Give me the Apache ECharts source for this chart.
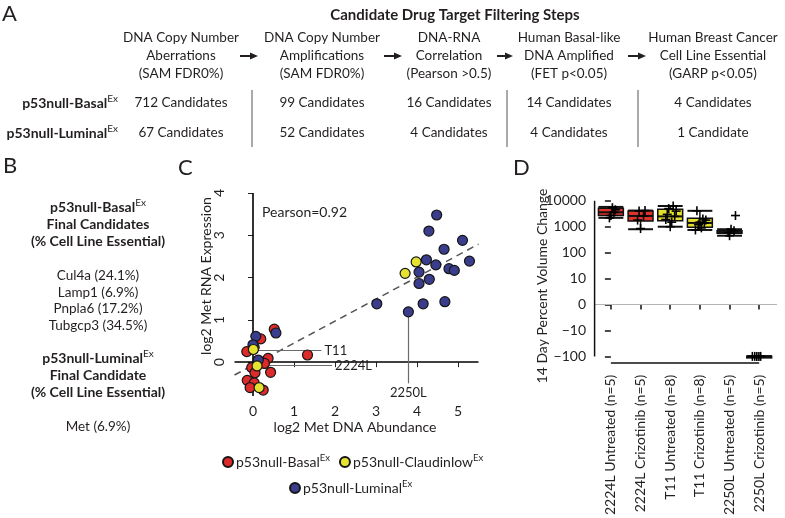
<!DOCTYPE html>
<html><head><meta charset="utf-8">
<script src="https://cdn.jsdelivr.net/npm/echarts@6/dist/echarts.min.js"></script>
<style>html,body{margin:0;padding:0;background:#fff}#c{width:785px;height:518px}</style>
</head><body><div id="c"></div>
<script>
// ---------- Panel A data ----------
const stepHeaders = [
  ["DNA Copy Number", "Aberrations", "(SAM FDR0%)"],
  ["DNA Copy Number", "Amplifications", "(SAM FDR0%)"],
  ["DNA-RNA", "Correlation", "(Pearson >0.5)"],
  ["Human Basal-like", "DNA Amplified", "(FET p<0.05)"],
  ["Human Breast Cancer", "Cell Line Essential", "(GARP p<0.05)"]
];
const basalCounts = ["712 Candidates", "99 Candidates", "16 Candidates", "14 Candidates", "4 Candidates"];
const luminalCounts = ["67 Candidates", "52 Candidates", "4 Candidates", "4 Candidates", "1 Candidate"];
// ---------- Panel B data ----------
const basalFinal = ["Cul4a (24.1%)", "Lamp1 (6.9%)", "Pnpla6 (17.2%)", "Tubgcp3 (34.5%)"];
const luminalFinal = ["Met (6.9%)"];
// ---------- Panel C data: [log2 DNA, log2 RNA] ----------
const basalPts = [[0.19,0.55],[0.52,0.78],[0.03,0.35],[-0.15,0.25],[0.37,0.09],[0.28,-0.03],[-0.03,-0.13],
  [0.43,-0.24],[0.05,-0.25],[-0.14,-0.43],[0.03,-0.49],[-0.07,-0.6],[0.25,-0.66],[1.33,0.17]];
const claudinPts = [[0.01,0.30],[0.10,-0.09],[0.15,-0.60],[3.98,2.37],[3.71,2.10]];
const luminalPts = [[0.07,0.61],[0.56,0.69],[0.00,0.41],[0.13,0.05],[4.48,3.48],[4.29,3.10],[4.23,2.42],
  [4.46,2.30],[4.05,2.13],[4.30,1.96],[4.05,1.86],[3.02,1.38],[4.15,1.38],[3.79,1.19],[5.11,2.88],
  [4.66,2.67],[5.28,2.39],[4.78,2.21],[4.91,2.17],[4.68,1.43]];
const cXTicks = [0,1,2,3,4,5];
const cYTicks = [0,1,2,3,4];
const regSlope = 0.52, regIntercept = -0.07;
const pearsonText = "Pearson=0.92";
// ---------- Panel D data ----------
const dGroups = ["2224L Untreated (n=5)", "2224L Crizotinib (n=5)", "T11 Untreated (n=8)",
  "T11 Crizotinib (n=8)", "2250L Untreated (n=5)", "2250L Crizotinib (n=5)"];
const dMin = [2200, 800, 1000, 750, 450, -100];
const dQ1  = [2700, 1650, 1700, 950, 560, -100];
const dMed = [3600, 2600, 2500, 1400, 620, -100];
const dQ3  = [5200, 4000, 4700, 2100, 700, -100];
const dMax = [5800, 4200, 6300, 4100, 800, -100];
const dPoints = [ // [group position, % change]
  [0.05,5400],[0.15,4500],[0.1,3600],[0.0,2700],[-0.05,2200],
  [0.95,4000],[1.1,2600],[0.9,1800],[1.0,850],[1.15,4200],
  [2.1,6300],[1.95,5000],[2.2,4000],[1.9,3000],[2.15,2500],[1.85,1900],[2.05,1500],[2.0,1000],
  [2.9,4100],[3.1,2000],[3.2,1800],[3.0,1500],[3.15,1400],[2.95,1200],[3.05,900],[2.85,750],
  [4.2,2700],[4.05,800],[4.15,700],[3.95,600],[4.0,450],
  [4.77,-100],[4.85,-100],[4.92,-100],[4.99,-100],[5.05,-100]
];
const dTickVals = [10000, 1000, 100, 10, 0, -10, -100];
const dTickLabels = ["10000", "1000", "100", "10", "0", "\u221210", "\u2212100"];

// ---------- helpers ----------
const FONT = "Lato";
const INK = "#231f20";
const T = v => v === 0 ? 0 : Math.sign(v) * Math.log10(Math.abs(v));
const boxColors = ["#e2322c", "#e2322c", "#e3df2b", "#e3df2b", "#3a3d8c", "#222"];
const graphics = [];
function txt(x, y, text, size, opt) {
  opt = opt || {};
  graphics.push({
    type: "text", x: x, y: y, rotation: opt.rotation || 0, silent: true,
    style: {
      text: text, fill: INK, fontFamily: FONT, fontSize: size,
      fontWeight: opt.bold ? "bold" : "normal",
      align: opt.align || "center", textAlign: opt.align || "center",
      verticalAlign: "middle", textVerticalAlign: "middle",
      rich: opt.rich
    }
  });
}
function supText(x, y, main, size, align) {
  txt(x, y, "{b|" + main + "}{s|Ex}", size, {
    align: align,
    rich: {
      b: { fontFamily: FONT, fontSize: size, fontWeight: "bold", fill: INK, color: INK, lineHeight: 18 },
      s: { fontFamily: FONT, fontSize: 10, fill: INK, color: INK, verticalAlign: "top", lineHeight: 12 }
    }
  });
}
function line(x1, y1, x2, y2, color, w) {
  graphics.push({ type: "line", silent: true, shape: { x1, y1, x2, y2 }, style: { stroke: color, lineWidth: w } });
}
function arrow(x1, x2, y) {
  line(x1, y, x2 - 6, y, INK, 2);
  graphics.push({ type: "polygon", silent: true, shape: { points: [[x2 - 8, y - 3.5], [x2, y], [x2 - 8, y + 3.5]] }, style: { fill: INK } });
}

// ---------- Panel A ----------
txt(2, 14, "A", 22, { align: "left" });
txt(455, 15, "Candidate Drug Target Filtering Steps", 15, { bold: true });
const colX = [181, 322, 449, 569, 713];
stepHeaders.forEach((h, i) => h.forEach((s, j) => txt(colX[i], 38 + j * 18, s, 13.5)));
[[240, 258], [384, 402], [497, 513], [628, 646]].forEach(a => arrow(a[0], a[1], 56));
supText(118, 103, "p53null-Basal", 14, "right");
supText(118, 133, "p53null-Luminal", 14, "right");
basalCounts.forEach((s, i) => txt(colX[i], 103, s, 13.5));
luminalCounts.forEach((s, i) => txt(colX[i], 133, s, 13.5));
[252, 507, 638].forEach(x => line(x, 90, x, 147, "#555", 1));

// ---------- Panel B ----------
txt(3, 166, "B", 22, { align: "left" });
const bx = 98;
supText(bx, 207, "p53null-Basal", 14, "center");
txt(bx, 224, "Final Candidates", 14, { bold: true });
txt(bx, 241, "(% Cell Line Essential)", 14, { bold: true });
basalFinal.forEach((s, i) => txt(bx, 276 + i * 16.4, s, 13.5));
supText(bx, 358, "p53null-Luminal", 14, "center");
txt(bx, 375, "Final Candidate", 14, { bold: true });
txt(bx, 392, "(% Cell Line Essential)", 14, { bold: true });
luminalFinal.forEach((s, i) => txt(bx, 427 + i * 16.4, s, 13.5));

// ---------- Panel C labels ----------
txt(178, 168, "C", 22, { align: "left" });
txt(262, 212, pearsonText, 14, { align: "left" });
txt(355, 427, "log2 Met DNA Abundance", 14);
txt(206, 276, "log2 Met RNA Expression", 14, { rotation: Math.PI / 2 });
// ---------- Panel D labels ----------
txt(513, 168, "D", 22, { align: "left" });
txt(542, 286, "14 Day Percent Volume Change", 14, { rotation: Math.PI / 2 });

// ---------- chart ----------
const chart = echarts.init(document.getElementById("c"), null, { renderer: "canvas" });
const axisTxt = { fontFamily: FONT, fontSize: 14, color: INK };
const regAt = x => regIntercept + regSlope * x;
const cXMin = -0.45, cXMax = 5.5, cYMin = -0.8, cYMax = 4.0;
const dXMin = -0.57, dXMax = 5.6, dYMin = -2.28, dYMax = 4.2;

const ptStyle = c => ({ color: c, borderColor: "#151515", borderWidth: 1.2, opacity: 1 });
const annoStyle = { color: "#6b6b6b", width: 1.2, type: "solid" };
const annoLabel = { show: true, position: "end", distance: 3, fontFamily: FONT, fontSize: 13, color: INK };

function renderBox(params, api) {
  const i = api.value(0);
  const half = api.size([0.84, 0])[0] / 2;
  const p = k => api.coord([i, api.value(k)]);
  const cx = p(3)[0];
  const yMin = p(1)[1], yQ1 = p(2)[1], yMed = p(3)[1], yQ3 = p(4)[1], yMax = p(5)[1];
  const ls = { stroke: "#111", lineWidth: 1.5 };
  const children = [
    { type: "line", shape: { x1: cx, y1: yMin, x2: cx, y2: yQ1 }, style: ls },
    { type: "line", shape: { x1: cx, y1: yQ3, x2: cx, y2: yMax }, style: ls },
    { type: "line", shape: { x1: cx - half, y1: yMin, x2: cx + half, y2: yMin }, style: { stroke: "#111", lineWidth: 2 } },
    { type: "line", shape: { x1: cx - half, y1: yMax, x2: cx + half, y2: yMax }, style: { stroke: "#111", lineWidth: 2 } },
    { type: "rect", shape: { x: cx - half, y: yQ3, width: 2 * half, height: Math.max(yQ1 - yQ3, 1.5) },
      style: { fill: boxColors[i], stroke: "#111", lineWidth: 1.5 } },
    { type: "line", shape: { x1: cx - half, y1: yMed, x2: cx + half, y2: yMed }, style: { stroke: "#111", lineWidth: 2 } }
  ];
  return { type: "group", children: children };
}
function renderCross(params, api) {
  const c = api.coord([api.value(0), api.value(1)]);
  const s = { stroke: "#000", lineWidth: 1.6 };
  return { type: "group", children: [
    { type: "line", shape: { x1: c[0] - 4.5, y1: c[1], x2: c[0] + 4.5, y2: c[1] }, style: s },
    { type: "line", shape: { x1: c[0], y1: c[1] - 4.5, x2: c[0], y2: c[1] + 4.5 }, style: s }
  ]};
}

const legendBase = {
  icon: "circle", itemWidth: 10, itemHeight: 10, itemGap: 9, padding: 0, selectedMode: false,
  formatter: n => "{n|" + n + "}{s|Ex}",
  textStyle: { padding: [0, 0, 0, -2], rich: {
    n: { fontFamily: FONT, fontSize: 14, color: INK, lineHeight: 18 },
    s: { fontFamily: FONT, fontSize: 9.5, color: INK, verticalAlign: "top", lineHeight: 11 }
  } }
};
const axisLineSeries = (data) => ({ type: "line", xAxisIndex: 1, yAxisIndex: 1, data: data, symbol: "none",
  silent: true, z: 2, lineStyle: { color: "#111", width: 1.5 } });

chart.setOption({
  animation: false,
  backgroundColor: "#fff",
  graphic: graphics,
  legend: [
    Object.assign({}, legendBase, { data: ["p53null-Basal", "p53null-Claudinlow"], left: 222, top: 453 }),
    Object.assign({}, legendBase, { data: ["p53null-Luminal"], left: 289, top: 479 })
  ],
  grid: [
    { left: 234.5, top: 193, width: 244, height: 203 },
    { left: 594, top: 195.6, width: 183, height: 177.7 }
  ],
  xAxis: [
    { type: "value", gridIndex: 0, min: cXMin, max: cXMax, axisLine: { show: false }, splitLine: { show: false },
      axisTick: { show: true, length: 5, customValues: cXTicks, lineStyle: { color: "#222", width: 1 } },
      axisLabel: { customValues: cXTicks, margin: 8, ...axisTxt } },
    { type: "value", gridIndex: 1, min: dXMin, max: dXMax, axisLine: { show: false }, splitLine: { show: false },
      axisTick: { show: true, length: 5, customValues: [0,1,2,3,4,5], lineStyle: { color: "#111", width: 1.5 } },
      axisLabel: { customValues: [0,1,2,3,4,5], rotate: 90, margin: 11, formatter: v => dGroups[Math.round(v)], ...axisTxt } }
  ],
  yAxis: [
    { type: "value", gridIndex: 0, min: cYMin, max: cYMax, axisLine: { show: false }, splitLine: { show: false },
      axisTick: { show: true, length: 5, customValues: cYTicks, lineStyle: { color: "#222", width: 1 } },
      axisLabel: { customValues: cYTicks, rotate: 90, margin: 8, ...axisTxt } },
    { type: "value", gridIndex: 1, min: dYMin, max: dYMax, axisLine: { show: false }, splitLine: { show: false },
      axisTick: { show: true, length: 6, customValues: dTickVals.map(T), lineStyle: { color: "#111", width: 1.5 } },
      axisLabel: { customValues: dTickVals.map(T), margin: 8,
        formatter: v => dTickLabels[dTickVals.map(T).findIndex(t => Math.abs(t - v) < 1e-6)], ...axisTxt } }
  ],
  series: [
    { name: "p53null-Basal", type: "scatter", xAxisIndex: 0, yAxisIndex: 0, symbolSize: 10, data: basalPts,
      itemStyle: ptStyle("#dd2a2a"), z: 3,
      markLine: { silent: true, symbol: "none", animation: false, label: { show: false }, z: 1,
        data: [
          { xAxis: 0, lineStyle: { color: "#000", width: 1.6, type: "solid" } },
          { yAxis: 0, lineStyle: { color: "#000", width: 1.6, type: "solid" } },
          [{ coord: [cXMin, regAt(cXMin)], lineStyle: { color: "#555", width: 1.5, type: [7, 5] } },
           { coord: [cXMax, regAt(cXMax)] }],
          [{ coord: [0.05, 0.28], lineStyle: annoStyle }, { coord: [1.67, 0.28], label: Object.assign({ formatter: "T11" }, annoLabel) }],
          [{ coord: [0.12, -0.08], lineStyle: annoStyle }, { coord: [1.93, -0.08], label: Object.assign({ formatter: "2224L" }, annoLabel) }],
          [{ coord: [3.79, 1.08], lineStyle: annoStyle }, { coord: [3.79, -0.5], label: Object.assign({ formatter: "2250L" }, annoLabel) }]
        ] } },
    { name: "p53null-Claudinlow", type: "scatter", xAxisIndex: 0, yAxisIndex: 0, symbolSize: 10, data: claudinPts,
      itemStyle: ptStyle("#e6e330"), z: 4 },
    { name: "p53null-Luminal", type: "scatter", xAxisIndex: 0, yAxisIndex: 0, symbolSize: 10, data: luminalPts,
      itemStyle: ptStyle("#3a3d8c"), z: 3 },
    { type: "custom", xAxisIndex: 1, yAxisIndex: 1, renderItem: renderBox, z: 3,
      data: dGroups.map((g, i) => [i, T(dMin[i]), T(dQ1[i]), T(dMed[i]), T(dQ3[i]), T(dMax[i])]),
      encode: { x: 0, y: [1, 2, 3, 4, 5] },
      markLine: { silent: true, symbol: "none", animation: false, label: { show: false }, z: 1,
        data: [ { yAxis: 0, lineStyle: { color: "#b5b5b5", width: 1.2, type: "solid" } } ] } },
    axisLineSeries([[dXMin + 0.02, T(dTickVals[6])], [dXMin + 0.02, T(dTickVals[0])]]),
    axisLineSeries([[0, dYMin + 0.02], [5, dYMin + 0.02]]),
    { type: "custom", xAxisIndex: 1, yAxisIndex: 1, renderItem: renderCross, z: 5,
      data: dPoints.map(p => [p[0], T(p[1])]), encode: { x: 0, y: 1 } }
  ]
});
</script>
</body></html>
